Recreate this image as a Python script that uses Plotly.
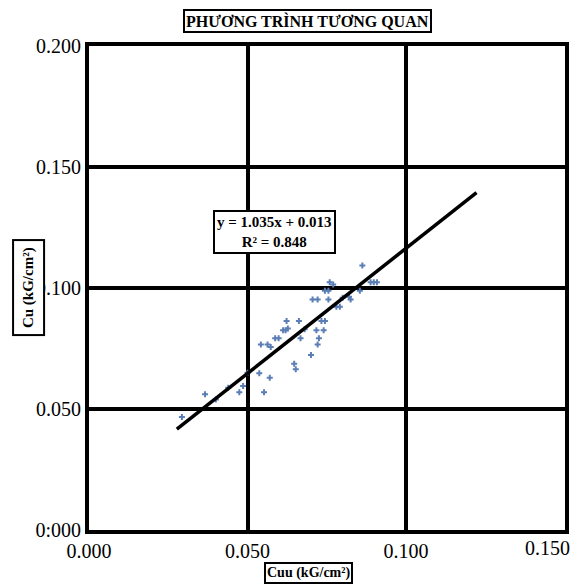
import plotly.graph_objects as go

# Data
cuu = [0.0293, 0.0366, 0.0439, 0.0474, 0.0486, 0.0537, 0.0570, 0.0552, 0.0542, 0.0563,
       0.0573, 0.0587, 0.0598, 0.0612, 0.0620, 0.0627, 0.0623, 0.0662, 0.0667, 0.0647,
       0.0652, 0.0700, 0.0721, 0.0725, 0.0717, 0.0740, 0.0733, 0.0744, 0.0705, 0.0721,
       0.0755, 0.0780, 0.0791, 0.0744, 0.0755, 0.0759, 0.0770, 0.0820, 0.0825, 0.0854,
       0.0888, 0.0898, 0.0908, 0.0862, 0.0400, 0.0500, 0.0680, 0.0800]
cu = [0.0467, 0.0561, 0.0588, 0.0569, 0.0595, 0.0648, 0.0629, 0.0569, 0.0767, 0.0767,
      0.0757, 0.0793, 0.0793, 0.0826, 0.0826, 0.0833, 0.0864, 0.0864, 0.0793, 0.0687,
      0.0665, 0.0723, 0.0767, 0.0793, 0.0826, 0.0826, 0.0864, 0.0864, 0.0953, 0.0953,
      0.0953, 0.0923, 0.0923, 0.0989, 0.0989, 0.1024, 0.1015, 0.0964, 0.0953, 0.0989,
      0.1024, 0.1024, 0.1024, 0.1094, 0.0540, 0.0650, 0.0830, 0.0960]

slope = 1.035
intercept = 0.013
trend_x = [0.0277, 0.1222]
trend_y = [slope * v + intercept for v in trend_x]

x_ticks = [0.0, 0.05, 0.10, 0.15]
x_tick_labels = ["0.000", "0.050", "0.100", "0.150"]
y_ticks = [0.0, 0.05, 0.10, 0.15, 0.20]
y_tick_labels = ["0:000", "0.050", "0.100", "0.150", "0.200"]

title_text = "PHƯƠNG TRÌNH TƯƠNG QUAN"
x_title = "Cuu (kG/cm²)"
y_title = "Cu (kG/cm²)"
eq_text = "y = 1.035x + 0.013<br>R² = 0.848"

serif = "Liberation Serif, Times New Roman, serif"

fig = go.Figure()
fig.add_trace(go.Scatter(
    x=cuu, y=cu, mode="markers",
    marker=dict(symbol="cross", size=5, color="#5B7FB5"),
    showlegend=False, hoverinfo="skip"))
fig.add_trace(go.Scatter(
    x=trend_x, y=trend_y, mode="lines",
    line=dict(color="black", width=3.5),
    showlegend=False, hoverinfo="skip"))

# the last x tick label sits at the right edge; it is drawn as an annotation
# so it can be nudged inward and stay visible
edge_label = dict(text=x_tick_labels[-1], xref="x", yref="paper",
                  x=x_ticks[-1], y=0, xanchor="center", yanchor="top",
                  xshift=-17, yshift=-5, showarrow=False,
                  font=dict(size=20, family=serif, color="black"))

fig.update_layout(
    width=574, height=577,
    margin=dict(l=81, r=17, t=38, b=55, autoexpand=False),
    paper_bgcolor="white", plot_bgcolor="white",
    font=dict(family=serif, color="black"),
    xaxis=dict(range=[0, 0.1501], tickvals=x_ticks[:-1], ticktext=x_tick_labels[:-1],
               showgrid=True, gridcolor="black", gridwidth=4,
               showline=True, linecolor="black", linewidth=4, mirror=True,
               zeroline=False, ticks="", automargin=False,
               tickfont=dict(size=20, family=serif, color="black")),
    yaxis=dict(range=[0, 0.2001], tickvals=y_ticks, ticktext=y_tick_labels,
               showgrid=True, gridcolor="black", gridwidth=4,
               showline=True, linecolor="black", linewidth=4, mirror=True,
               zeroline=False, ticks="", ticklabelstandoff=0, automargin=False,
               tickfont=dict(size=20, family=serif, color="black")),
    annotations=[
        edge_label,
        dict(text="<b>" + title_text + "</b>", xref="paper", yref="paper",
             x=0.46, y=1.052, xanchor="center", yanchor="middle", showarrow=False,
             font=dict(size=16, family=serif, color="black"),
             bordercolor="black", borderwidth=2, borderpad=1, bgcolor="white"),
        dict(text="<b>" + x_title + "</b>", xref="paper", yref="paper",
             x=0.462, y=-0.088, xanchor="center", yanchor="middle", showarrow=False,
             font=dict(size=14, family=serif, color="black"),
             bordercolor="black", borderwidth=2, borderpad=1, bgcolor="white"),
        dict(text="<b>" + y_title + "</b>", xref="paper", yref="paper",
             x=-0.128, y=0.5, xanchor="center", yanchor="middle", showarrow=False,
             textangle=-90, font=dict(size=15, family=serif, color="black"),
             bordercolor="black", borderwidth=2, borderpad=6, bgcolor="white"),
        dict(text="<b>" + eq_text + "</b>", xref="x", yref="y",
             x=0.0586, y=0.1232, xanchor="center", yanchor="middle", showarrow=False,
             font=dict(size=15, family=serif, color="black"),
             bordercolor="black", borderwidth=2, borderpad=2, bgcolor="white"),
    ],
)

fig.write_html("out.html")
